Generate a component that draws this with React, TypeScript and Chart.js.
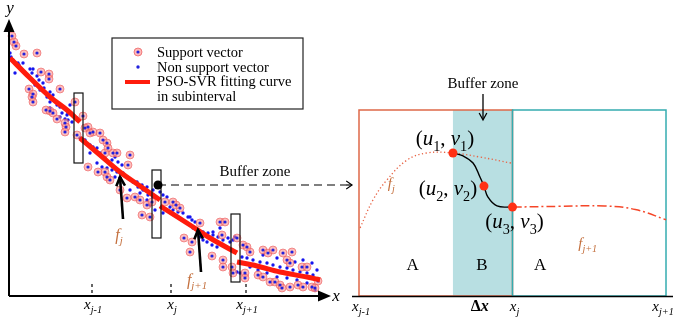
import React, { useEffect, useRef } from "react";
import { Chart, registerables } from "chart.js";
Chart.register(...registerables);

// ---------- LEFT PANEL DATA (x: units right of y-axis, y: units above x-axis) ----------
const supportVectors: [number, number][] = [
  [3, 260], [5, 254], [7, 250], [15, 242], [28, 243], [32, 224], [40, 222], [40, 217], [51, 207], [20, 207],
  [24, 202], [23, 199], [24, 194], [66, 194], [37, 186], [41, 185], [44, 183], [74, 180], [48, 177], [56, 173],
  [57, 169], [79, 169], [56, 164], [68, 161], [84, 164], [91, 163], [94, 156], [98, 153], [99, 148], [96, 143],
  [104, 143], [108, 143], [121, 141], [119, 131], [79, 129], [89, 124], [96, 124], [98, 119], [101, 116], [111, 106],
  [118, 98], [126, 99], [131, 96], [138, 91], [133, 81], [141, 79], [156, 94], [164, 94], [167, 91], [171, 88],
  [191, 73], [211, 74], [216, 74], [175, 58], [183, 54], [181, 44], [203, 40], [214, 36], [214, 29], [223, 29],
  [213, 61], [228, 58], [234, 51], [238, 49], [241, 44], [254, 46], [259, 43], [264, 46], [274, 43], [283, 44],
  [278, 36], [281, 33], [293, 29], [298, 29], [224, 23], [236, 23], [236, 18], [249, 21], [254, 19], [261, 14],
  [266, 14], [271, 11], [273, 8], [281, 9], [289, 11], [294, 9], [303, 9], [306, 8], [309, 15], [76, 168],
  [143, 94], [81, 163],
];

const nonSupportVectors: [number, number][] = [
  [1, 243], [2, 239], [4, 236], [9, 233], [10, 231], [14, 233], [6, 223], [21, 227], [24, 227], [23, 223],
  [28, 220], [30, 216], [34, 213], [26, 211], [31, 206], [35, 208], [41, 204], [44, 201], [38, 199], [41, 194],
  [48, 191], [41, 188], [53, 183], [58, 181], [56, 177], [59, 176], [63, 174], [51, 179], [51, 189], [61, 191],
  [59, 183], [68, 178], [71, 158], [76, 156], [81, 151], [84, 149], [88, 148], [81, 143], [91, 143], [96, 138],
  [103, 136], [106, 139], [109, 134], [88, 133], [93, 129], [98, 128], [103, 126], [108, 124], [113, 131], [114, 123],
  [119, 118], [124, 114], [129, 109], [134, 106], [139, 101], [144, 99], [131, 103], [138, 96], [121, 106], [111, 118],
  [106, 119], [128, 114], [133, 111], [138, 109], [144, 106], [151, 104], [154, 101], [158, 99], [161, 89], [164, 86],
  [169, 84], [174, 83], [179, 79], [183, 76], [186, 74], [184, 68], [194, 64], [199, 63], [204, 64], [209, 59],
  [214, 56], [221, 54], [226, 59], [191, 59], [198, 54], [203, 51], [208, 49], [181, 79], [173, 76], [154, 83],
  [146, 86], [141, 91], [194, 56], [204, 61], [211, 68], [219, 58], [224, 56], [233, 39], [238, 38], [244, 36],
  [251, 34], [258, 33], [264, 31], [271, 29], [278, 28], [284, 26], [291, 24], [298, 23], [304, 21], [241, 29],
  [249, 26], [258, 23], [268, 19], [278, 18], [288, 16], [298, 13], [306, 6], [231, 23], [228, 24], [254, 41],
  [268, 38], [286, 34], [294, 36], [303, 33], [308, 26],
];

const fitSeg1: [number, number][] = [[1, 238], [21, 218], [41, 199], [58, 186], [71, 174]];
const fitSeg2: [number, number][] = [[71, 158], [91, 141], [111, 124], [131, 110], [151, 96]];
const fitSeg3: [number, number][] = [[151, 90], [181, 71], [201, 58], [228, 43]];
const fitSeg4: [number, number][] = [[228, 34], [248, 30], [271, 24], [298, 19], [311, 16]];

const leftTickPos = [83, 162, 237];
const leftTickSubs = ["j-1", "j", "j+1"];
// buffer boxes: [x0, x1, y0, y1]
const bufferBoxes: [number, number, number, number][] = [
  [65, 74, 133, 203],
  [143, 152, 58, 126],
  [222, 231, 14, 82],
];
const bufferPoint: [number, number] = [149, 111];
// arrows: [fromX, fromY, toX, toY]
const fArrows: [number, number, number, number][] = [
  [114, 77, 111, 119],
  [192, 24, 189, 66],
];
const fLabelSubs = ["j", "j+1"];

// ---------- RIGHT PANEL DATA (x: x_{j-1}=0, x_j=1, x_{j+1}=2; y: 0 bottom, 1 top of boxes) ----------
const rightTickPos = [0, 1, 2];
const rightTickSubs = ["j-1", "j", "j+1"];
const fjCurve: [number, number][] = [
  [0.007, 0.366], [0.091, 0.516], [0.182, 0.624], [0.313, 0.731], [0.443, 0.769],
  [0.612, 0.769], [0.788, 0.747], [0.99, 0.715],
];
const bridgeCurve: [number, number][] = [
  [0.612, 0.769], [0.678, 0.753], [0.743, 0.715], [0.788, 0.64], [0.814, 0.591],
  [0.84, 0.532], [0.899, 0.484], [1.0, 0.478],
];
const fj1Curve: [number, number][] = [
  [1.0, 0.478], [1.3, 0.482], [1.6, 0.484], [1.8, 0.465], [2.0, 0.41],
];
const keyPoints: [number, number][] = [[0.612, 0.769], [0.814, 0.591], [1.0, 0.478]];
const keySubs = ["1", "2", "3"];
const regionLabels = ["A", "B", "A"];
const regionLabelX = [0.35, 0.8, 1.18];

// ---------- helpers ----------
const SERIF = '"Liberation Serif", "Times New Roman", serif';
const fnt = (size: number, it = false, b = false) => `${it ? "italic " : ""}${b ? "bold " : ""}${size}px ${SERIF}`;
type Part = { t: string; sub?: boolean; it?: boolean; b?: boolean };
function rich(ctx: CanvasRenderingContext2D, parts: Part[], x: number, y: number, size: number, align: "left" | "center", color: string) {
  const ss = size * 0.68;
  const ws = parts.map((p) => {
    ctx.font = fnt(p.sub ? ss : size, p.it, p.b);
    return ctx.measureText(p.t).width;
  });
  const total = ws.reduce((a, b) => a + b, 0);
  let cx = align === "center" ? x - total / 2 : x;
  ctx.fillStyle = color;
  ctx.textAlign = "left";
  ctx.textBaseline = "alphabetic";
  parts.forEach((p, i) => {
    ctx.font = fnt(p.sub ? ss : size, p.it, p.b);
    ctx.fillText(p.t, cx, p.sub ? y + size * 0.27 : y);
    cx += ws[i];
  });
}
function chevron(ctx: CanvasRenderingContext2D, tx: number, ty: number, ang: number, len: number, spread: number) {
  ctx.beginPath();
  ctx.moveTo(tx - len * Math.cos(ang - spread), ty - len * Math.sin(ang - spread));
  ctx.lineTo(tx, ty);
  ctx.lineTo(tx - len * Math.cos(ang + spread), ty - len * Math.sin(ang + spread));
  ctx.stroke();
}

const BROWN = "rgb(196,112,62)";
const RED = "rgb(255,28,12)";

const LW = 346, RW = 327, H = 322;

export default function App() {
  const leftRef = useRef<HTMLCanvasElement>(null);
  const rightRef = useRef<HTMLCanvasElement>(null);

  useEffect(() => {
    const leftPlugin = {
      id: "leftDeco",
      afterDatasetsDraw(chart: any) {
        const { ctx, scales } = chart;
        const X = (v: number) => scales.x.getPixelForValue(v);
        const Y = (v: number) => scales.y.getPixelForValue(v);
        ctx.save();
        // buffer boxes
        ctx.strokeStyle = "#111";
        ctx.lineWidth = 1.2;
        bufferBoxes.forEach(([x0, x1, y0, y1]) => {
          ctx.strokeRect(X(x0), Y(y1), X(x1) - X(x0), Y(y0) - Y(y1));
        });
        // axes
        ctx.strokeStyle = "#000";
        ctx.fillStyle = "#000";
        ctx.lineWidth = 2;
        ctx.beginPath();
        ctx.moveTo(X(0), Y(0));
        ctx.lineTo(X(0), Y(266));
        ctx.moveTo(X(0), Y(0));
        ctx.lineTo(X(312), Y(0));
        ctx.stroke();
        ctx.beginPath();
        ctx.moveTo(X(0), Y(277));
        ctx.lineTo(X(0) - 5.5, Y(264));
        ctx.lineTo(X(0) + 5.5, Y(264));
        ctx.closePath();
        ctx.fill();
        ctx.beginPath();
        ctx.moveTo(X(322), Y(0));
        ctx.lineTo(X(309), Y(0) - 5.5);
        ctx.lineTo(X(309), Y(0) + 5.5);
        ctx.closePath();
        ctx.fill();
        ctx.font = fnt(17, true);
        ctx.textAlign = "center";
        ctx.fillText("y", X(1), 13);
        ctx.fillText("x", X(327), Y(0) + 5);
        // tick dashes and labels
        ctx.lineWidth = 1.2;
        ctx.setLineDash([3, 3]);
        leftTickPos.forEach((t) => {
          ctx.beginPath();
          ctx.moveTo(X(t), Y(3));
          ctx.lineTo(X(t), Y(13));
          ctx.stroke();
        });
        ctx.setLineDash([]);
        leftTickPos.forEach((t, i) => {
          rich(ctx, [{ t: "x", it: true }, { t: leftTickSubs[i], sub: true, it: true }], X(t) + 1, 309, 15, "center", "#000");
        });
        // buffer zone pointer
        ctx.setLineDash([8, 5]);
        ctx.lineWidth = 1.2;
        ctx.beginPath();
        ctx.moveTo(X(bufferPoint[0]), Y(bufferPoint[1]));
        ctx.lineTo(chart.width, Y(bufferPoint[1]));
        ctx.stroke();
        ctx.setLineDash([]);
        ctx.beginPath();
        ctx.arc(X(bufferPoint[0]), Y(bufferPoint[1]), 4.5, 0, Math.PI * 2);
        ctx.fill();
        ctx.font = fnt(15);
        ctx.textAlign = "center";
        ctx.fillText("Buffer zone", 255, 176);
        // f arrows
        ctx.lineWidth = 2.6;
        fArrows.forEach(([x0, y0, x1, y1], i) => {
          ctx.strokeStyle = "#000";
          ctx.beginPath();
          ctx.moveTo(X(x0), Y(y0));
          ctx.lineTo(X(x1), Y(y1));
          ctx.stroke();
          const ang = Math.atan2(Y(y1) - Y(y0), X(x1) - X(x0));
          chevron(ctx, X(x1), Y(y1), ang, 10, 0.45);
          rich(ctx, [{ t: "f", it: true }, { t: fLabelSubs[i], sub: true, it: true }], X(x0) - 4, Y(y0) + (i === 0 ? 21 : 13), 16, "center", BROWN);
        });
        // legend
        ctx.lineWidth = 1.2;
        ctx.strokeStyle = "#222";
        ctx.fillStyle = "#fff";
        ctx.fillRect(112, 38, 191, 71);
        ctx.strokeRect(112, 38, 191, 71);
        ctx.beginPath();
        ctx.arc(138, 52, 4, 0, Math.PI * 2);
        ctx.fillStyle = "rgba(255,140,140,0.6)";
        ctx.fill();
        ctx.strokeStyle = "rgba(235,90,90,0.7)";
        ctx.lineWidth = 1;
        ctx.stroke();
        ctx.fillStyle = "#2222dd";
        ctx.beginPath();
        ctx.arc(138, 52, 1.6, 0, Math.PI * 2);
        ctx.fill();
        ctx.beginPath();
        ctx.arc(138, 67, 1.7, 0, Math.PI * 2);
        ctx.fill();
        ctx.strokeStyle = RED;
        ctx.lineWidth = 4;
        ctx.beginPath();
        ctx.moveTo(125, 82);
        ctx.lineTo(150, 82);
        ctx.stroke();
        ctx.fillStyle = "#000";
        ctx.font = fnt(14.5);
        ctx.textAlign = "left";
        ctx.fillText("Support vector", 157, 57);
        ctx.fillText("Non support vector", 157, 71.5);
        ctx.fillText("PSO-SVR fitting curve", 157, 86);
        ctx.fillText("in subinterval", 157, 101);
        ctx.restore();
      },
    };

    const lineDs = (d: [number, number][]) => ({
      data: d.map(([x, y]) => ({ x, y })),
      showLine: true,
      borderColor: RED,
      borderWidth: 5,
      pointRadius: 0,
      tension: 0.35,
      order: 0,
    });

    const left = new Chart(leftRef.current!, {
      type: "scatter",
      data: {
        datasets: [
          lineDs(fitSeg1), lineDs(fitSeg2), lineDs(fitSeg3), lineDs(fitSeg4),
          {
            data: supportVectors.map(([x, y]) => ({ x, y })),
            pointRadius: 1.6,
            pointBackgroundColor: "#2222dd",
            pointBorderWidth: 0,
            order: 1,
          },
          {
            data: supportVectors.map(([x, y]) => ({ x, y })),
            pointRadius: 4,
            pointBackgroundColor: "rgba(250,135,135,0.55)",
            pointBorderColor: "rgba(235,90,90,0.6)",
            pointBorderWidth: 1,
            order: 2,
          },
          {
            data: nonSupportVectors.map(([x, y]) => ({ x, y })),
            pointRadius: 1.7,
            pointBackgroundColor: "#1515ee",
            pointBorderWidth: 0,
            order: 3,
          },
        ] as any,
      },
      options: {
        responsive: false,
        animation: false,
        layout: { padding: 0, autoPadding: false },
        plugins: { legend: { display: false }, tooltip: { enabled: false } },
        scales: {
          x: { type: "linear", min: -9, max: 337, display: false },
          y: { type: "linear", min: -26, max: 296, display: false },
        },
      },
      plugins: [leftPlugin],
    });

    const RX0 = 13, RUNIT = 153.5, RY0 = 296, RYUNIT = 186;
    const rightPlugin = {
      id: "rightDeco",
      beforeDatasetsDraw(chart: any) {
        const { ctx, scales } = chart;
        const X = (v: number) => scales.x.getPixelForValue(v);
        const Y = (v: number) => scales.y.getPixelForValue(v);
        ctx.save();
        ctx.fillStyle = "rgb(184,223,226)";
        ctx.fillRect(X(keyPoints[0][0]), Y(1), X(1) - X(keyPoints[0][0]), Y(0) - Y(1));
        ctx.lineWidth = 1.5;
        ctx.strokeStyle = "rgb(222,104,72)";
        ctx.strokeRect(X(0), Y(1), X(1) - X(0), Y(0) - Y(1));
        ctx.strokeStyle = "rgb(52,172,176)";
        ctx.strokeRect(X(1), Y(1), X(2) - X(1), Y(0) - Y(1));
        // baseline
        ctx.strokeStyle = "#000";
        ctx.lineWidth = 1.6;
        ctx.beginPath();
        ctx.moveTo(6, Y(0) + 0.5);
        ctx.lineTo(chart.width, Y(0) + 0.5);
        ctx.stroke();
        ctx.restore();
      },
      afterDatasetsDraw(chart: any) {
        const { ctx, scales } = chart;
        const X = (v: number) => scales.x.getPixelForValue(v);
        const Y = (v: number) => scales.y.getPixelForValue(v);
        ctx.save();
        ctx.strokeStyle = "#000";
        ctx.fillStyle = "#000";
        // incoming arrow
        ctx.lineWidth = 1.2;
        ctx.beginPath();
        ctx.moveTo(0, 185);
        ctx.lineTo(6, 185);
        ctx.stroke();
        chevron(ctx, 6, 185, 0, 7, 0.6);
        // buffer zone label + arrow
        ctx.font = fnt(15);
        ctx.textAlign = "center";
        ctx.fillText("Buffer zone", 137, 88);
        ctx.lineWidth = 1.3;
        ctx.beginPath();
        ctx.moveTo(137, 94);
        ctx.lineTo(137, 119);
        ctx.stroke();
        chevron(ctx, 137, 120, Math.PI / 2, 8, 0.5);
        // key point labels
        const lab = (i: number, cx: number, by: number) =>
          rich(ctx, [
            { t: "(" }, { t: "u", it: true }, { t: keySubs[i], sub: true }, { t: ", " },
            { t: "v", it: true }, { t: keySubs[i], sub: true }, { t: ")" },
          ], cx, by, 21, "center", "#000");
        lab(0, X(keyPoints[0][0]) - 8, Y(keyPoints[0][1]) - 8);
        lab(1, X(keyPoints[1][0]) - 36, Y(keyPoints[1][1]) + 9);
        lab(2, X(keyPoints[2][0]) + 2, Y(keyPoints[2][1]) + 21);
        // region labels
        ctx.font = fnt(17);
        ctx.fillStyle = "#000";
        ctx.textAlign = "center";
        regionLabels.forEach((t, i) => ctx.fillText(t, X(regionLabelX[i]), Y(0.14)));
        // curve labels
        rich(ctx, [{ t: "f", it: true }, { t: "j", sub: true, it: true }], X(0.21), Y(0.58), 15, "center", BROWN);
        rich(ctx, [{ t: "f", it: true }, { t: "j+1", sub: true, it: true }], X(1.49), Y(0.26), 15, "center", BROWN);
        // tick labels
        rightTickPos.forEach((t, i) => {
          const cx = i === 2 ? X(t) - 3 : X(t) + 2;
          rich(ctx, [{ t: "x", it: true }, { t: rightTickSubs[i], sub: true, it: true }], cx, 311, 15, "center", "#000");
        });
        rich(ctx, [{ t: "\u0394", b: true }, { t: "x", it: true, b: true }], X((keyPoints[0][0] + 1) / 2) - 3, 311, 16, "center", "#000");
        ctx.restore();
      },
    };

    const right = new Chart(rightRef.current!, {
      type: "scatter",
      data: {
        datasets: [
          {
            data: keyPoints.map(([x, y]) => ({ x, y })),
            pointRadius: 4.5,
            pointBackgroundColor: "rgb(255,48,20)",
            pointBorderWidth: 0,
            order: 0,
          },
          {
            data: bridgeCurve.map(([x, y]) => ({ x, y })),
            showLine: true,
            borderColor: "#000",
            borderWidth: 1.4,
            pointRadius: 0,
            tension: 0.4,
            order: 1,
          },
          {
            data: fjCurve.map(([x, y]) => ({ x, y })),
            showLine: true,
            borderColor: "rgb(232,100,70)",
            borderWidth: 1.3,
            borderDash: [1.3, 2.4],
            pointRadius: 0,
            tension: 0.4,
            order: 2,
          },
          {
            data: fj1Curve.map(([x, y]) => ({ x, y })),
            showLine: true,
            borderColor: "rgb(245,70,40)",
            borderWidth: 1.5,
            borderDash: [9, 3, 2, 3],
            pointRadius: 0,
            tension: 0.4,
            order: 3,
          },
        ] as any,
      },
      options: {
        responsive: false,
        animation: false,
        layout: { padding: 0, autoPadding: false },
        plugins: { legend: { display: false }, tooltip: { enabled: false } },
        scales: {
          x: { type: "linear", min: -RX0 / RUNIT, max: (RW - RX0) / RUNIT, display: false },
          y: { type: "linear", min: -(H - RY0) / RYUNIT, max: RY0 / RYUNIT, display: false },
        },
      },
      plugins: [rightPlugin],
    });

    return () => {
      left.destroy();
      right.destroy();
    };
  }, []);

  return (
    <div style={{ position: "absolute", left: 0, top: 0, width: 673, height: 322, background: "#fff" }}>
      <canvas ref={leftRef} width={LW} height={H} style={{ position: "absolute", left: 0, top: 0 }} />
      <canvas ref={rightRef} width={RW} height={H} style={{ position: "absolute", left: LW, top: 0 }} />
    </div>
  );
}
